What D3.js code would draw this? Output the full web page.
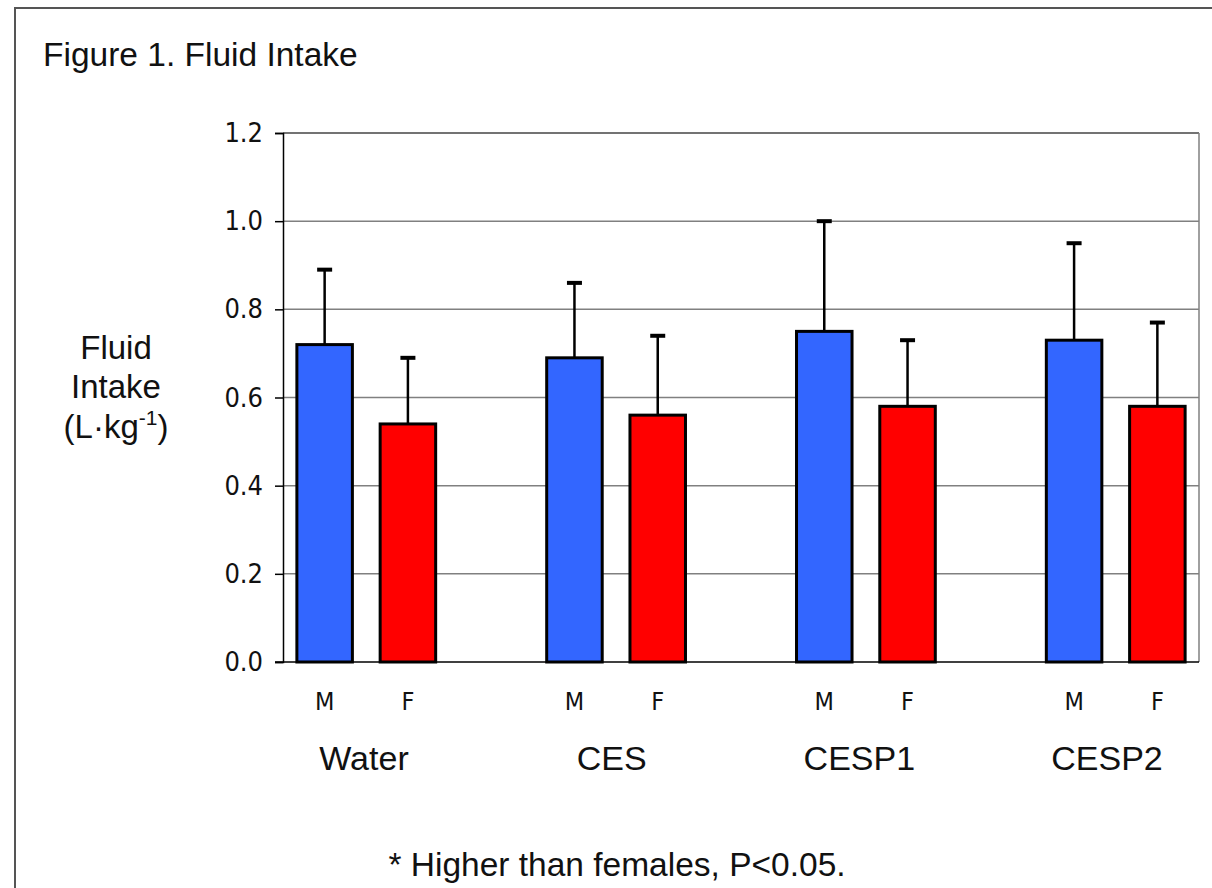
<!DOCTYPE html>
<html>
<head>
<meta charset="utf-8">
<script src="https://cdn.jsdelivr.net/npm/d3@7"></script>
<style>
	body { margin: 0; background: #fff; }
	svg { display: block; }
	.narrow { font-family: 'DejaVu Sans Condensed', 'DejaVu Sans', Verdana, sans-serif; font-stretch: condensed; }
</style>
</head>
<body>
<div id="chart"></div>
<script>

// groups and the two bars inside each (an empty slot between groups)
const groups = ["Water", "CES", "CESP1", "CESP2"];
const sexes = ["M", "F"];
const meanM = [0.72, 0.69, 0.75, 0.73];
const meanF = [0.54, 0.56, 0.58, 0.58];
const sdM = [0.17, 0.17, 0.25, 0.22];
const sdF = [0.15, 0.18, 0.15, 0.19];
const yTicks = [0, 0.2, 0.4, 0.6, 0.8, 1.0, 1.2];

const width = 1212, height = 888;
const plot = {left: 283, right: 1199, top: 133, bottom: 662};

const svg = d3.select('#chart').append('svg')
	.attr('width', width)
	.attr('height', height);

// outer frame of the figure
svg.append('rect')
	.attr('x', 15).attr('y', 8)
	.attr('width', 1300).attr('height', 1000)
	.attr('fill', 'none')
	.attr('stroke', '#555')
	.attr('stroke-width', 2);

svg.append('text')
	.attr('x', 43).attr('y', 66)
	.attr('font-family', 'Liberation Sans, Arial, sans-serif')
	.attr('font-size', 33.5)
	.attr('fill', '#111')
	.text('Figure 1. Fluid Intake');

// build the slot list: M, F, gap, M, F, gap ...
let bars = [];
let slots = [];
groups.forEach((g, i) => {
	slots.push(g + '|M', g + '|F');
	if (i < groups.length - 1) slots.push('gap' + i);
	bars.push({key: g + '|M', sex: 'M', group: g, mean: meanM[i], sd: sdM[i]});
	bars.push({key: g + '|F', sex: 'F', group: g, mean: meanF[i], sd: sdF[i]});
});

const x = d3.scaleBand()
	.domain(slots)
	.range([plot.left, plot.right])
	.paddingInner(1/3)
	.paddingOuter(1/6);

// group names sit in their own text boxes, slightly off the bar pairs
const xGroup = d3.scalePoint()
	.domain(groups)
	.range([364, 1107]);

const y = d3.scaleLinear()
	.domain([0, 1.2])
	.range([plot.bottom, plot.top]);

const color = {M: '#3366ff', F: '#ff0000'};

// gridlines
svg.append('g')
	.selectAll('line')
	.data(yTicks.filter(d => d > 0 && d < 1.2))
	.enter().append('line')
	.attr('x1', plot.left).attr('x2', plot.right)
	.attr('y1', d => y(d)).attr('y2', d => y(d))
	.attr('stroke', '#808080')
	.attr('stroke-width', 1.5);

// plot frame: top + right gray, left + bottom black
svg.append('line')
	.attr('x1', plot.left).attr('x2', plot.right)
	.attr('y1', plot.top).attr('y2', plot.top)
	.attr('stroke', '#444').attr('stroke-width', 1.5);
svg.append('line')
	.attr('x1', plot.right).attr('x2', plot.right)
	.attr('y1', plot.top).attr('y2', plot.bottom)
	.attr('stroke', '#808080').attr('stroke-width', 1.5);

// y axis
const yAxis = d3.axisLeft(y)
	.tickValues(yTicks)
	.tickFormat(d3.format('.1f'))
	.tickSize(8)
	.tickPadding(12);

const ya = svg.append('g')
	.attr('transform', `translate(${plot.left},0)`)
	.call(yAxis);
ya.attr('font-family', null);
ya.select('.domain').attr('stroke', '#000').attr('stroke-width', 1.5);
ya.selectAll('.tick line').attr('stroke', '#000').attr('stroke-width', 1.5);
ya.selectAll('.tick text')
	.attr('class', 'narrow')
	.attr('font-size', 27)
	.attr('fill', '#111');

// bars
svg.append('g')
	.selectAll('rect')
	.data(bars)
	.enter().append('rect')
	.attr('x', d => x(d.key))
	.attr('y', d => y(d.mean))
	.attr('width', x.bandwidth())
	.attr('height', d => y(0) - y(d.mean))
	.attr('fill', d => color[d.sex])
	.attr('stroke', '#000')
	.attr('stroke-width', 3);

// error bars (upper only)
const err = svg.append('g');
err.selectAll('line.stem')
	.data(bars)
	.enter().append('line')
	.attr('class', 'stem')
	.attr('x1', d => x(d.key) + x.bandwidth() / 2)
	.attr('x2', d => x(d.key) + x.bandwidth() / 2)
	.attr('y1', d => y(d.mean))
	.attr('y2', d => y(d.mean + d.sd))
	.attr('stroke', '#000')
	.attr('stroke-width', 2.5);
err.selectAll('line.cap')
	.data(bars)
	.enter().append('line')
	.attr('class', 'cap')
	.attr('x1', d => x(d.key) + x.bandwidth() / 2 - 7.5)
	.attr('x2', d => x(d.key) + x.bandwidth() / 2 + 7.5)
	.attr('y1', d => y(d.mean + d.sd))
	.attr('y2', d => y(d.mean + d.sd))
	.attr('stroke', '#000')
	.attr('stroke-width', 4);

// bottom axis line drawn over bars
svg.append('line')
	.attr('x1', plot.left - 8).attr('x2', plot.right)
	.attr('y1', plot.bottom).attr('y2', plot.bottom)
	.attr('stroke', '#000').attr('stroke-width', 1.5);

// M / F labels
svg.append('g')
	.selectAll('text')
	.data(bars)
	.enter().append('text')
	.attr('class', 'narrow')
	.attr('x', d => x(d.key) + x.bandwidth() / 2)
	.attr('y', 710)
	.attr('text-anchor', 'middle')
	.attr('font-size', 25)
	.attr('fill', '#111')
	.text(d => d.sex);

// group labels
svg.append('g')
	.selectAll('text')
	.data(groups)
	.enter().append('text')
	.attr('x', g => xGroup(g))
	.attr('y', 770)
	.attr('text-anchor', 'middle')
	.attr('font-family', 'Liberation Sans, Arial, sans-serif')
	.attr('font-size', 34)
	.attr('fill', '#111')
	.text(g => g);

// y axis title
const yt = svg.append('text')
	.attr('text-anchor', 'middle')
	.attr('font-family', 'Liberation Sans, Arial, sans-serif')
	.attr('font-size', 33)
	.attr('fill', '#111');
yt.append('tspan').attr('x', 116).attr('y', 359).text('Fluid');
yt.append('tspan').attr('x', 116).attr('y', 398).text('Intake');
const unit = yt.append('tspan').attr('x', 116).attr('y', 438);
unit.text('(L·kg');
yt.append('tspan').attr('dy', -13).attr('font-size', 21).text('-1');
yt.append('tspan').attr('dy', 13).text(')');

// footnote
svg.append('text')
	.attr('x', 617).attr('y', 876)
	.attr('text-anchor', 'middle')
	.attr('font-family', 'Liberation Sans, Arial, sans-serif')
	.attr('font-size', 33.5)
	.attr('fill', '#111')
	.text('* Higher than females, P<0.05.');

</script>
</body>
</html>
